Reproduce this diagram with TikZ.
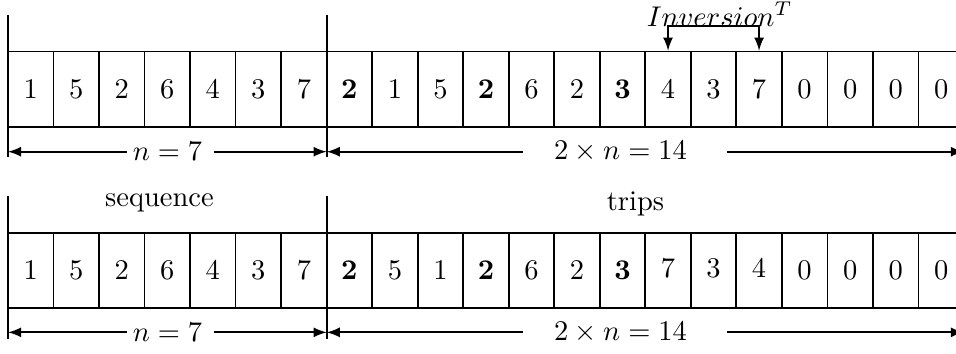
\documentclass[tikz,border=0pt]{standalone}
\usepackage{amsmath, amssymb}
\usetikzlibrary{calc}
\tikzstyle{cell}=[draw, minimum width=0.5614cm, minimum height=0.93cm, inner sep=0]
\tikzstyle{dimL}=[latex-]
\tikzstyle{dimR}=[-latex]

\begin{document}
\begin{tikzpicture}[semithick]
\useasboundingbox (-0.0987,0) rectangle (11.692,4.354);
% first row
\foreach \v [count=\i from 0] in {1,5,2,6,4,3,7,\mathbf{2},1,5,\mathbf{2},6,2,\mathbf{3},4,3,7,0,0,0,0}{\node[cell] (a\i) at (\i*0.5614+0.2807,3.2535) {$\v$};}
\draw (0,4.169) coordinate (ta) -- (0,2.42) coordinate (tb);
\draw (3.93,4.169) coordinate (tc) -- (3.93,2.42) coordinate (td);
\coordinate (pa) at (0,2.483);
\coordinate (pb) at (3.93,2.483);
\coordinate (pc) at (11.789,2.483);
\node (n1) at (1.967,2.483) [inner sep=0] {$n=7$};
\node (m1) at (7.554,2.483) [inner sep=0] {$2\times n=14$};
\draw[dimL] (pa) -- ([xshift=-0.06cm]n1.west);
\draw[dimR] ([xshift=0.133cm]n1.east) -- (pb);
\draw[dimL] (pb) -- ([xshift=-0.376cm]m1.west);
\draw[dimR] ([xshift=0.48cm]m1.east) -- (pc);
\node[anchor=base] (inv) at (8.777,4.033) {$Inversion^T$};
\draw[latex-latex] (a14.north) -- ++(0,0.301) -| (a16.north);
% second row
\foreach \v [count=\i from 0] in {1,5,2,6,4,3,7,\mathbf{2},5,1,\mathbf{2},6,2,\mathbf{3},\raisebox{1.4pt}{$7$},\raisebox{1.4pt}{$3$},\raisebox{1.4pt}{$4$},0,0,0,0}{\node[cell] (b\i) at (\i*0.5614+0.2807,1.0175) {$\v$};}
\draw (0,1.936) coordinate (tf) -- (0,0.175) coordinate (tg);
\draw (3.93,1.936) coordinate (th) -- (3.93,0.175) coordinate (ti);
\coordinate (qa) at (0,0.255);
\coordinate (qb) at (3.93,0.255);
\coordinate (qc) at (11.789,0.255);
\node (n2) at (1.967,0.255) [inner sep=0] {$n=7$};
\node (m2) at (7.554,0.255) [inner sep=0] {$2\times n=14$};
\draw[dimL] (qa) -- ([xshift=-0.06cm]n2.west);
\draw[dimR] ([xshift=0.133cm]n2.east) -- (qb);
\draw[dimL] (qb) -- ([xshift=-0.376cm]m2.west);
\draw[dimR] ([xshift=0.48cm]m2.east) -- (qc);
\node[anchor=base] (seq) at (1.868,1.804) {sequence};
\node[anchor=base] (trp) at (7.739,1.763) {trips};
\end{tikzpicture}
\end{document}
